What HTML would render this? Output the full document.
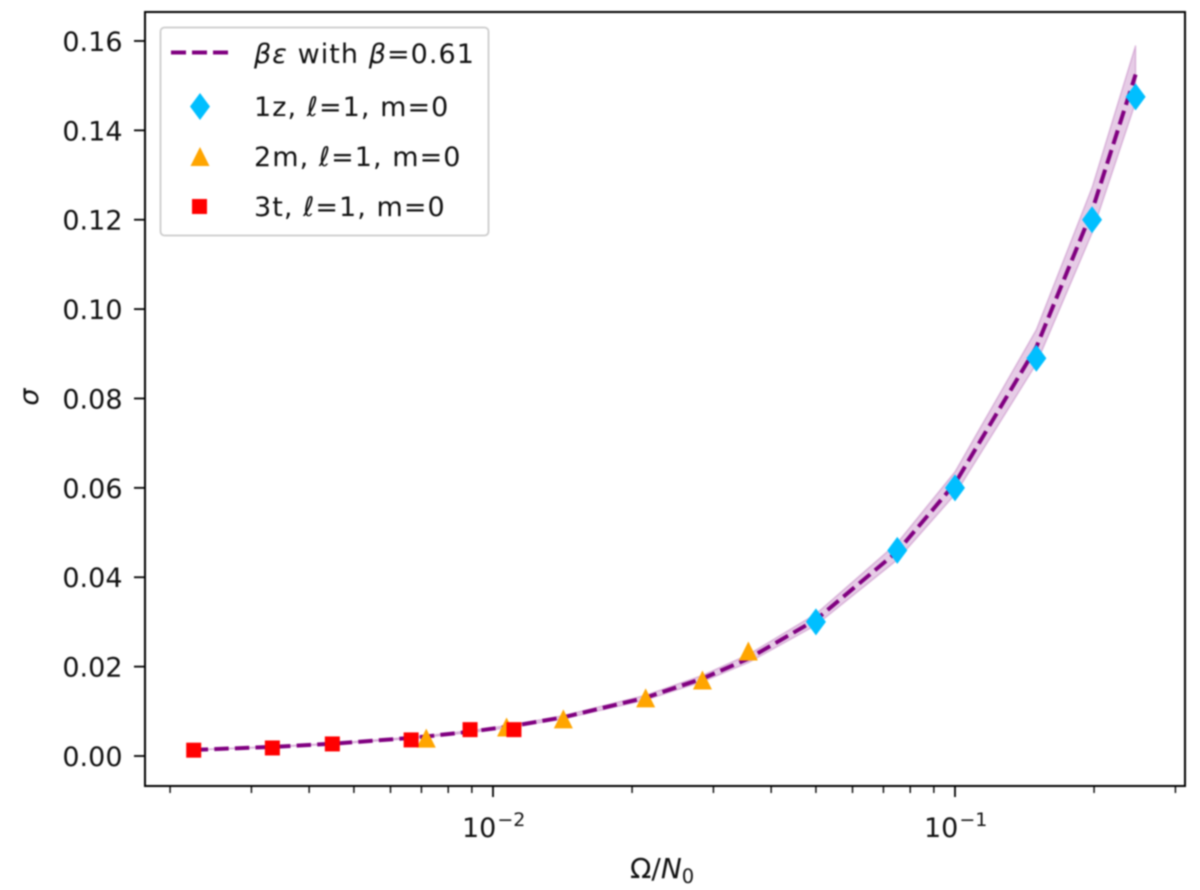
<!DOCTYPE html>
<html>
<head>
<meta charset="utf-8">
<title>Sigma versus Omega over N0</title>
<style>
html,body{margin:0;padding:0;background:#fff;width:1200px;height:890px;overflow:hidden}
svg{display:block;filter:blur(0.75px)}
text{font-family:"DejaVu Sans","Liberation Sans",sans-serif;fill:#111}
</style>
</head>
<body>
<svg id="chart" xmlns="http://www.w3.org/2000/svg" width="1200" height="890" viewBox="0 0 1200 890">
  <rect x="0" y="0" width="1200" height="890" fill="#fff"/>
  <g id="marks"></g>
  <g id="axes"></g>
  <rect x="145" y="12" width="1040" height="774" fill="none" stroke="#000" stroke-width="2"/>
  <text x="630" y="878" font-size="28"><tspan>Ω/</tspan><tspan font-style="italic">N</tspan><tspan font-size="19.5" dy="5">0</tspan></text>
  <text transform="translate(38 397) rotate(-90)" text-anchor="middle" font-size="27" font-style="italic">σ</text>
  <g>
    <rect x="160.5" y="27.5" width="328" height="208" rx="4" ry="4" fill="#fff" fill-opacity="0.85" stroke="#cccccc" stroke-width="1.8"/>
    <line x1="171" y1="52.5" x2="228" y2="52.5" stroke="#800080" stroke-width="3.9" stroke-dasharray="15 6"/>
    <text x="254" y="63" font-size="27" letter-spacing="1.05"><tspan font-style="italic">βε</tspan> with <tspan font-style="italic">β</tspan>=0.61</text>
    <polygon points="200,93 210,106.5 200,120 190,106.5" fill="#00bfff"/>
    <text x="254" y="116" font-size="27" letter-spacing="1.05">1z, <tspan font-style="italic">ℓ</tspan>=1, m=0</text>
    <polygon points="200,147 209.5,166 190.5,166" fill="#ffa500"/>
    <text x="254" y="166" font-size="27" letter-spacing="1.05">2m, <tspan font-style="italic">ℓ</tspan>=1, m=0</text>
    <rect x="192" y="199" width="15" height="15" fill="#ff0000"/>
    <text x="254" y="216" font-size="27" letter-spacing="1.05">3t, <tspan font-style="italic">ℓ</tspan>=1, m=0</text>
  </g>
</svg>
<script>
var xMajorTicks = [0.01, 0.1];
var xMajorExponents = ['−2', '−1'];
var xMinorTicks = [0.002, 0.003, 0.004, 0.005, 0.006, 0.007, 0.008, 0.009, 0.02, 0.03, 0.04, 0.05, 0.06, 0.07, 0.08, 0.09, 0.2, 0.3];
var yTicks = [0, 0.02, 0.04, 0.06, 0.08, 0.1, 0.12, 0.14, 0.16];
var yTickLabels = ['0.00', '0.02', '0.04', '0.06', '0.08', '0.10', '0.12', '0.14', '0.16'];

var fitX = [0.00225, 0.00333, 0.00449, 0.00665, 0.00717, 0.00892, 0.0107, 0.0111, 0.0142, 0.0214, 0.0284, 0.0357, 0.05, 0.075, 0.1, 0.15, 0.198, 0.246];
var fitEpsilon = [0.00225, 0.00333, 0.00449, 0.00665, 0.00717, 0.00892, 0.0107, 0.0111, 0.0142, 0.0214, 0.0284, 0.0357, 0.05, 0.075, 0.1, 0.15, 0.2, 0.25];
var fitBeta = 0.61;
var fitBetaLow = 0.585;
var fitBetaHigh = 0.636;

var series1zX = [0.05, 0.075, 0.1, 0.15, 0.198, 0.246];
var series1zY = [0.03, 0.046, 0.06, 0.089, 0.12, 0.1475];
var series2mX = [0.00717, 0.0107, 0.0142, 0.0214, 0.0284, 0.0357];
var series2mY = [0.004, 0.0065, 0.0083, 0.013, 0.017, 0.0235];
var series3tX = [0.00225, 0.00333, 0.00449, 0.00665, 0.00892, 0.0111];
var series3tY = [0.0013, 0.0018, 0.0027, 0.0036, 0.0059, 0.0059];

function xScale(v) { return 493 + 462 * (Math.log10(v) + 2); }
function yScale(v) { return 756 - 4469 * v; }

var NS = 'http://www.w3.org/2000/svg';
var marks = document.getElementById('marks');
var axes = document.getElementById('axes');

function make(tag, parent, attrs) {
  var el = document.createElementNS(NS, tag);
  for (var k in attrs) { el.setAttribute(k, attrs[k]); }
  parent.appendChild(el);
  return el;
}

function pathFrom(xs, ys) {
  return xs.map(function (x, i) { return xScale(x).toFixed(2) + ',' + yScale(ys[i]).toFixed(2); }).join(' ');
}

var upper = fitEpsilon.map(function (e) { return e * fitBetaHigh; });
var lower = fitEpsilon.map(function (e) { return e * fitBetaLow; });
var centre = fitEpsilon.map(function (e) { return e * fitBeta; });
var reversedX = fitX.slice().reverse();
var reversedLower = lower.slice().reverse();

var band = make('polygon', marks, { points: pathFrom(fitX, upper) + ' ' + pathFrom(reversedX, reversedLower), fill: '#800080', 'fill-opacity': '0.2', stroke: '#800080', 'stroke-opacity': '0.2', 'stroke-width': '1.5' });



var fitLine = make('polyline', marks, { points: pathFrom(fitX, centre), fill: 'none', stroke: '#800080', 'stroke-width': '4', 'stroke-dasharray': '14.4 6.2' });



series1zX.forEach(function (v, i) {
  var cx = xScale(v), cy = yScale(series1zY[i]);
  var m = make('polygon', marks, { points: cx + ',' + (cy - 13.5) + ' ' + (cx + 10) + ',' + cy + ' ' + cx + ',' + (cy + 13.5) + ' ' + (cx - 10) + ',' + cy, fill: '#00bfff' });
  
  
});

series2mX.forEach(function (v, i) {
  var cx = xScale(v), cy = yScale(series2mY[i]);
  var m = make('polygon', marks, { points: cx + ',' + (cy - 9.5) + ' ' + (cx + 9.5) + ',' + (cy + 9.5) + ' ' + (cx - 9.5) + ',' + (cy + 9.5), fill: '#ffa500' });
  
  
});

series3tX.forEach(function (v, i) {
  var cx = xScale(v), cy = yScale(series3tY[i]);
  var m = make('rect', marks, { x: cx - 7.5, y: cy - 7.5, width: 15, height: 15, fill: '#ff0000' });
  
  
});

yTicks.forEach(function (v, i) {
  var y = yScale(v);
  var t = make('line', axes, { x1: 134, x2: 145, y1: y, y2: y, stroke: '#000', 'stroke-width': '1.8' });
  
  
  var l = make('text', axes, { x: 122.5, y: y + 10, 'text-anchor': 'end', 'font-size': '27' });
  l.textContent = yTickLabels[i];
  
  
});

xMinorTicks.forEach(function (v) {
  var x = xScale(v);
  var t = make('line', axes, { x1: x, x2: x, y1: 786, y2: 793, stroke: '#000', 'stroke-width': '1.4' });
  
  
});

xMajorTicks.forEach(function (v, i) {
  var x = xScale(v);
  var t = make('line', axes, { x1: x, x2: x, y1: 786, y2: 797, stroke: '#000', 'stroke-width': '1.8' });
  
  
  var l = make('text', axes, { x: x - 31, y: 837, 'font-size': '27' });
  
  
  var base = make('tspan', l, {});
  base.textContent = '10';
  var sup = make('tspan', l, { 'font-size': '19', dy: '-11', dx: '1' });
  sup.textContent = xMajorExponents[i];
});
</script>
</body>
</html>
